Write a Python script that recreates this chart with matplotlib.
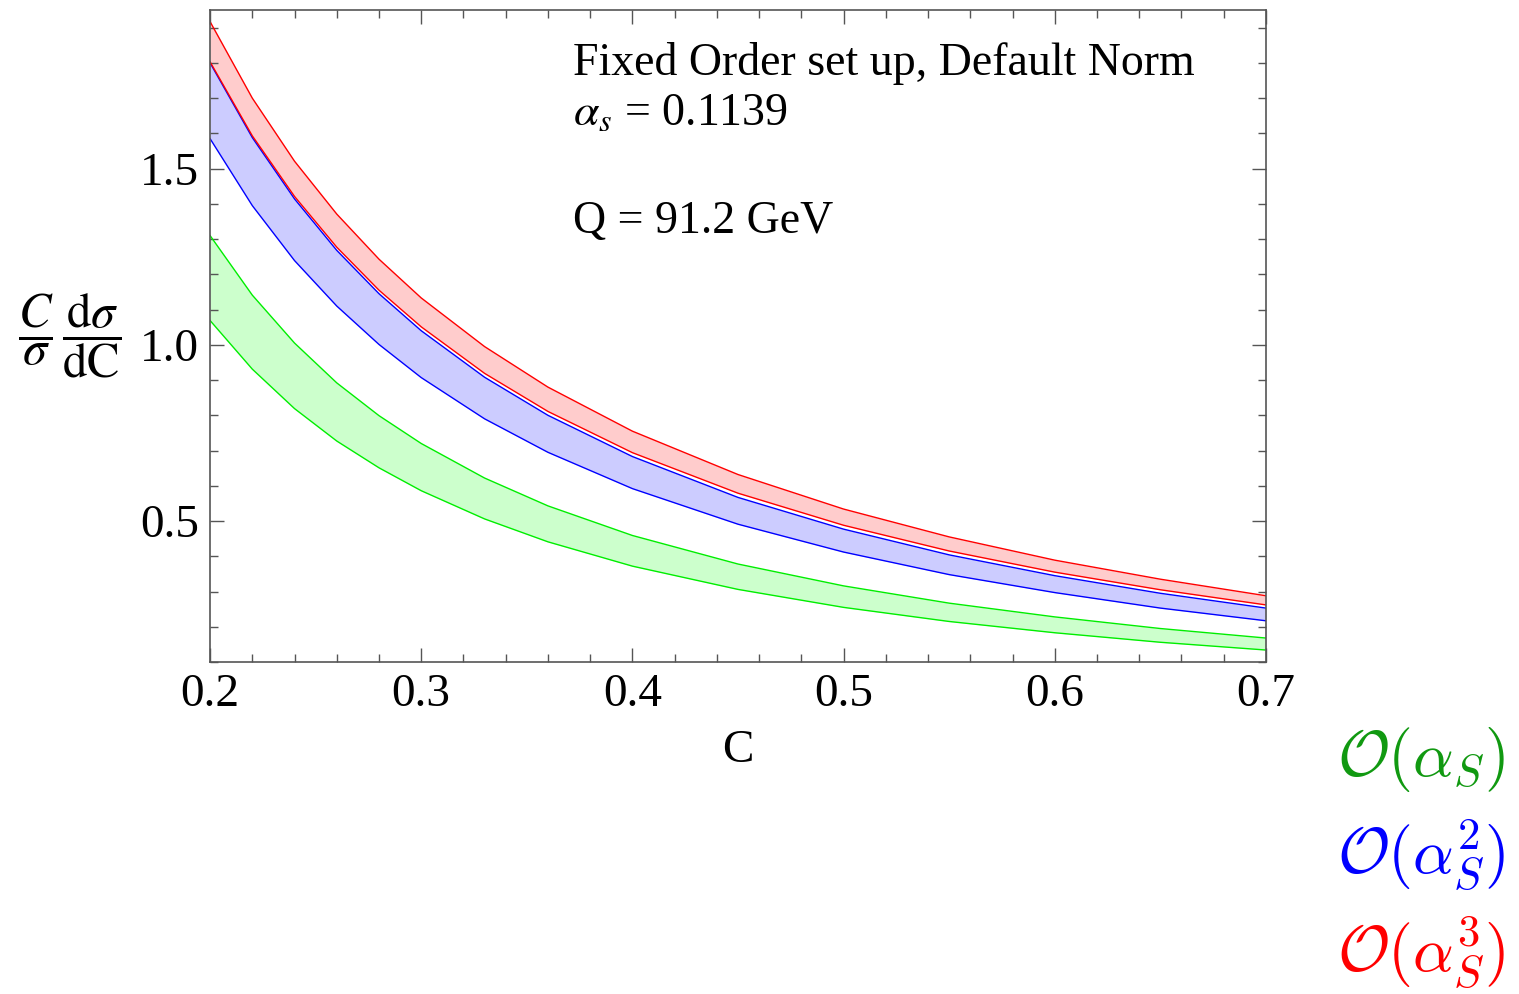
import matplotlib
matplotlib.use("Agg")
import matplotlib.pyplot as plt
from matplotlib.ticker import MultipleLocator

# ---- data ----
C_vals = [0.20, 0.22, 0.24, 0.26, 0.28, 0.30, 0.33, 0.36, 0.40, 0.45, 0.50, 0.55, 0.60, 0.65, 0.70]
red_upper   = [1.917, 1.700, 1.521, 1.371, 1.243, 1.133, 0.995, 0.880, 0.755, 0.632, 0.534, 0.455, 0.389, 0.335, 0.288]
red_lower   = [1.803, 1.593, 1.421, 1.277, 1.155, 1.051, 0.919, 0.811, 0.694, 0.579, 0.488, 0.415, 0.355, 0.305, 0.262]
blue_upper  = [1.800, 1.588, 1.414, 1.268, 1.145, 1.040, 0.908, 0.800, 0.683, 0.567, 0.477, 0.404, 0.345, 0.295, 0.253]
blue_lower  = [1.585, 1.395, 1.239, 1.110, 1.001, 0.907, 0.790, 0.695, 0.592, 0.491, 0.412, 0.348, 0.297, 0.253, 0.217]
green_upper = [1.310, 1.141, 1.005, 0.892, 0.799, 0.720, 0.622, 0.543, 0.459, 0.378, 0.316, 0.267, 0.228, 0.195, 0.168]
green_lower = [1.069, 0.931, 0.819, 0.727, 0.651, 0.586, 0.506, 0.441, 0.372, 0.306, 0.255, 0.215, 0.183, 0.156, 0.134]

x_ticks = [0.2, 0.3, 0.4, 0.5, 0.6, 0.7]
y_ticks = [0.5, 1.0, 1.5]

plt.rcParams['font.family'] = ['Liberation Serif', 'DejaVu Serif']
plt.rcParams['mathtext.fontset'] = 'stix'

fig = plt.figure(figsize=(15.19, 9.94), dpi=100)
ax = fig.add_axes([0.1383, 0.334, 0.6951, 0.6559])

bands = [
    (green_lower, green_upper, '#00ee00', '#ccffcc'),
    (blue_lower, blue_upper, '#0000ff', '#ccccff'),
    (red_lower, red_upper, '#ff0000', '#ffcccc'),
]
for lo, hi, lc, fc in bands:
    ax.fill_between(C_vals, lo, hi, color=fc, lw=0, zorder=1)
    ax.plot(C_vals, lo, color=lc, lw=1.0, zorder=2)
    ax.plot(C_vals, hi, color=lc, lw=1.0, zorder=2)

ax.set_xlim(0.2, 0.7)
ax.set_ylim(0.1, 1.95)
ax.set_xticks(x_ticks)
ax.set_xticklabels([f'{v:.1f}' for v in x_ticks])
ax.set_yticks(y_ticks)
ax.set_yticklabels([f'{v:.1f}' for v in y_ticks])
ax.xaxis.set_minor_locator(MultipleLocator(0.02))
ax.yaxis.set_minor_locator(MultipleLocator(0.1))
ax.tick_params(which='both', direction='in', top=True, right=True, color='#555555',
               labelsize=34, width=1.0)
ax.tick_params(which='major', length=10, pad=8)
ax.tick_params(which='minor', length=6)
for s in ax.spines.values():
    s.set_color('#555555')
    s.set_linewidth(1.2)

ax.set_xlabel('C', fontsize=34, labelpad=10)
fig.text(0.046, 0.662, r'$\dfrac{C}{\sigma}\,\dfrac{\mathrm{d}\sigma}{\mathrm{dC}}$',
         fontsize=35, ha='center', va='center')

ax.text(0.3717, 1.765, 'Fixed Order set up, Default Norm', fontsize=33, va='baseline')
ax.text(0.3717, 1.623, r'$\alpha_s$ = 0.1139', fontsize=33, va='baseline')
ax.text(0.3717, 1.316, 'Q = 91.2 GeV', fontsize=33, va='baseline')

labels = [r'$\mathcal{O}(\alpha_S)$', r'$\mathcal{O}(\alpha_S^2)$', r'$\mathcal{O}(\alpha_S^3)$']
lcolors = ['#119911', '#0000ff', '#ff0000']
ys = [0.236, 0.139, 0.042]
for t, c, yy in zip(labels, lcolors, ys):
    fig.text(0.991, yy, t, color=c, fontsize=46, ha='right', va='center', math_fontfamily='cm')

fig.savefig('out.png', dpi=100)
